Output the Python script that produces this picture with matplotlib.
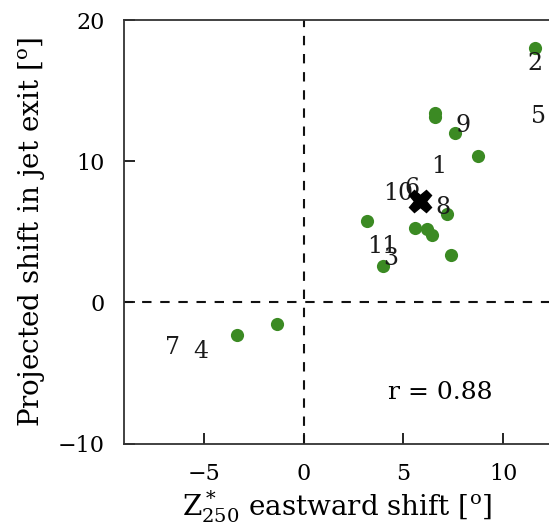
import matplotlib
matplotlib.use("Agg")
import matplotlib.pyplot as plt

plt.rcParams['font.family'] = ['DejaVu Serif']
plt.rcParams['mathtext.fontset'] = 'dejavuserif'

# 散点数据
x_pts = [11.6, 6.6, 6.6, 7.6, 8.75, 3.2, 5.6, 6.2, 6.45, 7.2, 7.4, 4.0, -3.35, -1.35]
y_pts = [18.0, 13.4, 13.1, 12.0, 10.35, 5.75, 5.3, 5.2, 4.75, 6.3, 3.35, 2.55, -2.27, -1.5]

# 编号标签
lab_text = ['2', '5', '9', '1', '10', '6', '8', '11', '3', '7', '4']
lab_x = [11.6, 11.75, 8.0, 6.75, 4.75, 5.45, 7.0, 3.95, 4.35, -6.55, -5.15]
lab_y = [16.9, 13.2, 12.55, 9.6, 7.7, 8.1, 6.7, 4.0, 3.1, -3.2, -3.5]

# 均值
mean_x, mean_y = 5.85, 7.2
r_text = 'r = 0.88'

fig = plt.figure(figsize=(5.49, 5.27), dpi=100)
ax = fig.add_axes([0.226, 0.158, 0.774, 0.804])

ax.axhline(0, color='#111111', linestyle=(0, (4.5, 4.2)), linewidth=1.5)
ax.axvline(0, color='#111111', linestyle=(0, (4.5, 4.2)), linewidth=1.5)

ax.scatter(x_pts, y_pts, s=90, color='#3b8a23', zorder=3, linewidths=0)
for t, lx, ly in zip(lab_text, lab_x, lab_y):
    ax.text(lx, ly, t, fontsize=17, ha='center', va='center', color='#1a1a1a', zorder=4)
ax.plot(mean_x, mean_y, marker='X', color='black', markersize=16, zorder=5)

ax.text(6.85, -6.35, r_text, fontsize=18, ha='center', va='center')

ax.set_xlim(-9, 12.3)
ax.set_ylim(-10, 20)
ax.set_xticks([-5, 0, 5, 10])
ax.set_yticks([-10, 0, 10, 20])
ax.tick_params(direction='in', labelsize=16, length=8, width=1.2, pad=14)
ax.spines['right'].set_visible(False)
for s in ['left', 'bottom', 'top']:
    ax.spines[s].set_linewidth(1.3)
    ax.spines[s].set_color('#333333')

ax.set_xlabel(r'Z$^*_{250}$ eastward shift [$^{\rm o}$]', fontsize=20, labelpad=2)
ax.set_ylabel(r'Projected shift in jet exit [$^{\rm o}$]', fontsize=20, labelpad=8)

fig.savefig('out.png', dpi=100)
